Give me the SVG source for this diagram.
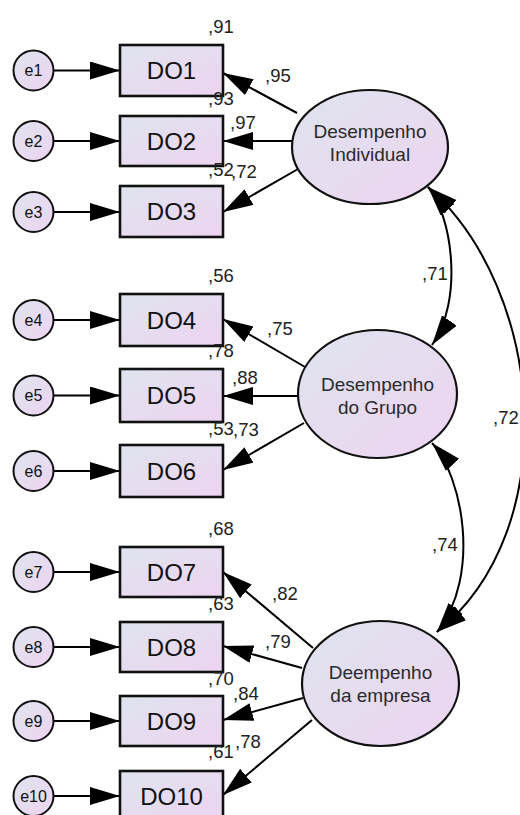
<svg xmlns="http://www.w3.org/2000/svg" width="520" height="815" viewBox="0 0 520 815">
<defs>
<linearGradient id="g" x1="0" y1="0" x2="1" y2="1">
<stop offset="0" stop-color="#dfe4ee"/>
<stop offset="1" stop-color="#edd4f1"/>
</linearGradient>
<marker id="ah" markerUnits="userSpaceOnUse" markerWidth="32" markerHeight="20" refX="30" refY="9" orient="auto-start-reverse" viewBox="0 0 32 20">
<path d="M0,0 L30,9 L0,18 Z" fill="#000"/>
</marker>
<style>
.box{fill:url(#g);stroke:#111;stroke-width:2.6}
.lat{fill:url(#g);stroke:#111;stroke-width:2.2}
.err{fill:url(#g);stroke:#111;stroke-width:2}
.bt{font-family:"Liberation Sans",Arial,sans-serif;font-size:24px;text-anchor:middle;fill:#111}
.lt{font-family:"Liberation Sans",Arial,sans-serif;font-size:19px;text-anchor:middle;fill:#2a2a2a}
.et{font-family:"Liberation Sans",Arial,sans-serif;font-size:16px;text-anchor:middle;fill:#111}
.num{font-family:"Liberation Sans",Arial,sans-serif;font-size:18.5px;fill:#222}
.c{stroke:#000;stroke-width:2;fill:none;marker-end:url(#ah)}
.cv{stroke:#000;stroke-width:2;fill:none;marker-end:url(#ah);marker-start:url(#ah)}
</style>
</defs>
<g id="connectors">
<line class="c" x1="53" y1="70.5" x2="120" y2="70.5"/>
<line class="c" x1="53" y1="141" x2="120" y2="141"/>
<line class="c" x1="53" y1="212" x2="120" y2="212"/>
<line class="c" x1="53" y1="320" x2="120" y2="320"/>
<line class="c" x1="53" y1="395.5" x2="120" y2="395.5"/>
<line class="c" x1="53" y1="471" x2="120" y2="471"/>
<line class="c" x1="53" y1="572" x2="120" y2="572"/>
<line class="c" x1="53" y1="647" x2="120" y2="647"/>
<line class="c" x1="53" y1="721" x2="120" y2="721"/>
<line class="c" x1="53" y1="796" x2="120" y2="796"/>
<line class="c" x1="297" y1="113" x2="223" y2="73"/>
<line class="c" x1="292" y1="141" x2="223" y2="141"/>
<line class="c" x1="298" y1="169" x2="223" y2="212"/>
<line class="c" x1="305" y1="367" x2="223" y2="319"/>
<line class="c" x1="298" y1="396" x2="223" y2="396"/>
<line class="c" x1="304" y1="423" x2="223" y2="470"/>
<line class="c" x1="313" y1="648" x2="223" y2="572"/>
<line class="c" x1="302" y1="668" x2="223" y2="646"/>
<line class="c" x1="303" y1="698" x2="223" y2="720"/>
<line class="c" x1="312" y1="720" x2="223" y2="795"/>
<path class="cv" d="M428,187 C452,215 464,300 432,345"/>
<path class="cv" d="M432,443 C462,475 482,575 437,632"/>
<path class="cv" d="M428,187 C545,290 565,530 437,632"/>
</g>
<g id="e1"><circle class="err" cx="33.5" cy="70.5" r="20"/><text class="et" x="33.5" y="76">e1</text></g>
<g id="e2"><circle class="err" cx="33.5" cy="141" r="20"/><text class="et" x="33.5" y="146.5">e2</text></g>
<g id="e3"><circle class="err" cx="33.5" cy="212" r="20"/><text class="et" x="33.5" y="217.5">e3</text></g>
<g id="e4"><circle class="err" cx="33.5" cy="320" r="20"/><text class="et" x="33.5" y="325.5">e4</text></g>
<g id="e5"><circle class="err" cx="33.5" cy="395.5" r="20"/><text class="et" x="33.5" y="401">e5</text></g>
<g id="e6"><circle class="err" cx="33.5" cy="471" r="20"/><text class="et" x="33.5" y="476.5">e6</text></g>
<g id="e7"><circle class="err" cx="33.5" cy="572" r="20"/><text class="et" x="33.5" y="577.5">e7</text></g>
<g id="e8"><circle class="err" cx="33.5" cy="647" r="20"/><text class="et" x="33.5" y="652.5">e8</text></g>
<g id="e9"><circle class="err" cx="33.5" cy="721" r="20"/><text class="et" x="33.5" y="726.5">e9</text></g>
<g id="e10"><circle class="err" cx="33.5" cy="796" r="20"/><text class="et" x="33.5" y="801.5">e10</text></g>
<g id="DO1"><rect class="box" x="120" y="45" width="103" height="51"/><text class="bt" x="171.5" y="79">DO1</text><text class="num" x="208" y="33">,91</text></g>
<g id="DO2"><rect class="box" x="120" y="116" width="103" height="50"/><text class="bt" x="171.5" y="149.5">DO2</text><text class="num" x="208" y="105">,93</text></g>
<g id="DO3"><rect class="box" x="120" y="186" width="103" height="51"/><text class="bt" x="171.5" y="220">DO3</text><text class="num" x="208" y="176">,52</text></g>
<g id="DO4"><rect class="box" x="120" y="294" width="103" height="52"/><text class="bt" x="171.5" y="328.5">DO4</text><text class="num" x="208" y="282">,56</text></g>
<g id="DO5"><rect class="box" x="120" y="369" width="103" height="53"/><text class="bt" x="171.5" y="404">DO5</text><text class="num" x="208" y="357">,78</text></g>
<g id="DO6"><rect class="box" x="120" y="445" width="103" height="52"/><text class="bt" x="171.5" y="479.5">DO6</text><text class="num" x="208" y="435">,53</text></g>
<g id="DO7"><rect class="box" x="120" y="547" width="103" height="50"/><text class="bt" x="171.5" y="580.5">DO7</text><text class="num" x="208" y="535">,68</text></g>
<g id="DO8"><rect class="box" x="120" y="622" width="103" height="50"/><text class="bt" x="171.5" y="655.5">DO8</text><text class="num" x="208" y="610">,63</text></g>
<g id="DO9"><rect class="box" x="120" y="696" width="103" height="50"/><text class="bt" x="171.5" y="729.5">DO9</text><text class="num" x="208" y="685">,70</text></g>
<g id="DO10"><rect class="box" x="120" y="771" width="103" height="50"/><text class="bt" x="171.5" y="804.5">DO10</text><text class="num" x="208" y="758">,61</text></g>
<g id="DesempenhoIndividual"><ellipse class="lat" cx="370" cy="147" rx="78" ry="57"/><text class="lt" x="370" y="138">Desempenho</text><text class="lt" x="370" y="161">Individual</text></g>
<g id="DesempenhoGrupo"><ellipse class="lat" cx="377.5" cy="394" rx="79.5" ry="64"/><text class="lt" x="377.5" y="391">Desempenho</text><text class="lt" x="377.5" y="414">do Grupo</text></g>
<g id="DesempenhoEmpresa"><ellipse class="lat" cx="380.5" cy="683.5" rx="78.5" ry="62.5"/><text class="lt" x="380.5" y="679">Deempenho</text><text class="lt" x="380.5" y="702">da empresa</text></g>
<g id="labels">
<text class="num" x="265" y="82">,95</text>
<text class="num" x="230" y="129">,97</text>
<text class="num" x="231" y="178">,72</text>
<text class="num" x="267" y="335">,75</text>
<text class="num" x="232" y="384">,88</text>
<text class="num" x="233" y="436">,73</text>
<text class="num" x="272" y="600">,82</text>
<text class="num" x="265" y="648">,79</text>
<text class="num" x="233" y="700">,84</text>
<text class="num" x="235" y="748">,78</text>
<text class="num" x="422" y="280">,71</text>
<text class="num" x="432" y="551">,74</text>
<text class="num" x="493" y="424">,72</text>
</g>
</svg>
